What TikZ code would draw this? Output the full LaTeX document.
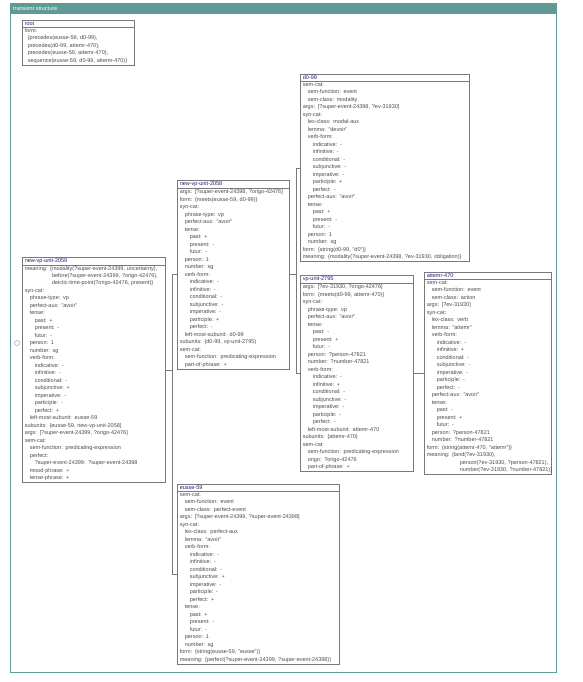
\documentclass[tikz,border=0pt]{standalone}
\usepackage{fontspec}
\setmainfont{Liberation Sans}
\usepackage{xcolor}
\usetikzlibrary{positioning, shapes.multipart}

\definecolor{framecol}{HTML}{5F9A96}
\definecolor{unitgray}{HTML}{7A7A7A}
\definecolor{unittext}{HTML}{4A4A4A}
\definecolor{unitblue}{HTML}{1C1C78}
\definecolor{expandcol}{HTML}{8FA8C8}

\newcommand{\unitfont}{\fontsize{5.5}{7.5}\selectfont}
\newcommand{\ia}{\hspace*{5pt}}
\newcommand{\ib}{\hspace*{10pt}}
\newcommand{\unithead}[1]{\textcolor{unitblue}{#1}}

\begin{document}
\begin{tikzpicture}[
        x=1pt, y=-1pt,
        unit/.style={
            rectangle split,
            rectangle split parts=2,
            draw=unitgray,
            line width=0.6pt,
            anchor=north west,
            align=left,
            inner xsep=2.5pt,
            inner ysep=1.2pt,
            text=unittext,
            font=\unitfont
        },
        link/.style={
            draw=unitgray,
            line width=0.6pt
        }
    ]
        \useasboundingbox (0,0) rectangle (582,682);

        % Ramka i pasek tytulowy
        \draw[framecol, line width=0.8pt] (10,3) rectangle (556,672);
        \fill[framecol] (10,3) rectangle (556,14);
        \node[anchor=west, text=white, font=\unitfont, inner sep=0pt] (title) at (13,8.5) {transient structure};

        % Wezel glowny
        \node[unit, text width=107pt] (root) at (22,20) {\unithead{root}
            \nodepart{two}form:\\
            \hspace*{3pt}\{precedes(eusse-59, d0-99),\\
            \hspace*{3pt}precedes(d0-99, attemr-470),\\
            \hspace*{3pt}precedes(eusse-59, attemr-470),\\
            \hspace*{3pt}sequence(eusse-59, d0-99, attemr-470)\}};

        % Lewa kolumna: jednostka najwyzsza
        \node[circle, draw=expandcol, line width=0.5pt, inner sep=0pt, minimum size=5pt] (expander) at (17,343) {};
        \node[unit, text width=138pt] (nvu2059) at (22,257) {\unithead{new-vp-unit-2059}
            \nodepart{two}meaning: \{modality(?super-event-24399, uncertainty),\\[-0.5pt]
            \phantom{meaning: \{}before(?super-event-24399, ?origo-42476),\\[-0.5pt]
            \phantom{meaning: \{}deictic-time-point(?origo-42476, present)\}\\
            syn-cat:\\
            \ia phrase-type: vp\\
            \ia perfect-aux: "avoir"\\
            \ia tense:\\
            \ib past: +\\
            \ib present: -\\
            \ib futur: -\\
            \ia person: 1\\
            \ia number: sg\\
            \ia verb-form:\\
            \ib indicative: -\\
            \ib infinitive: -\\
            \ib conditional: -\\
            \ib subjunctive: +\\
            \ib imperative: -\\
            \ib participle: -\\
            \ib perfect: +\\
            \ia left-most-subunit: eusse-59\\
            subunits: \{eusse-59, new-vp-unit-2058\}\\
            args: [?super-event-24399, ?origo-42476]\\
            sem-cat:\\
            \ia sem-function: predicating-expression\\
            \ia perfect:\\
            \ib ?super-event-24399: ?super-event-24398\\
            \ia mood-phrase: +\\
            \ia tense-phrase: +};

        % Druga kolumna
        \node[unit, text width=107pt] (nvu2058) at (177,180) {\unithead{new-vp-unit-2058}
            \nodepart{two}args: [?super-event-24398, ?origo-42476]\\
            form: \{meets(eusse-59, d0-99)\}\\
            syn-cat:\\
            \ia phrase-type: vp\\
            \ia perfect-aux: "avoir"\\
            \ia tense:\\
            \ib past: +\\
            \ib present: -\\
            \ib futur: -\\
            \ia person: 1\\
            \ia number: sg\\
            \ia verb-form:\\
            \ib indicative: -\\
            \ib infinitive: -\\
            \ib conditional: -\\
            \ib subjunctive: -\\
            \ib imperative: -\\
            \ib participle: +\\
            \ib perfect: -\\
            \ia left-most-subunit: d0-99\\
            subunits: \{d0-99, vp-unit-2795\}\\
            sem-cat:\\
            \ia sem-function: predicating-expression\\
            \ia part-of-phrase: +};

        \node[unit, text width=157pt] (eusse59) at (177,484) {\unithead{eusse-59}
            \nodepart{two}sem-cat:\\
            \ia sem-function: event\\
            \ia sem-class: perfect-event\\
            args: [?super-event-24399, ?super-event-24398]\\
            syn-cat:\\
            \ia lex-class: perfect-aux\\
            \ia lemma: "avoir"\\
            \ia verb-form:\\
            \ib indicative: -\\
            \ib infinitive: -\\
            \ib conditional: -\\
            \ib subjunctive: +\\
            \ib imperative: -\\
            \ib participle: -\\
            \ib perfect: +\\
            \ia tense:\\
            \ib past: +\\
            \ib present: -\\
            \ib futur: -\\
            \ia person: 1\\
            \ia number: sg\\
            form: \{string(eusse-59, "eusse")\}\\
            meaning: \{perfect(?super-event-24399, ?super-event-24398)\}};

        % Trzecia kolumna
        \node[unit, text width=164pt] (d099) at (300,74) {\unithead{d0-99}
            \nodepart{two}sem-cat:\\
            \ia sem-function: event\\
            \ia sem-class: modality\\
            args: [?super-event-24398, ?ev-31930]\\
            syn-cat:\\
            \ia lex-class: modal-aux\\
            \ia lemma: "devoir"\\
            \ia verb-form:\\
            \ib indicative: -\\
            \ib infinitive: -\\
            \ib conditional: -\\
            \ib subjunctive: -\\
            \ib imperative: -\\
            \ib participle: +\\
            \ib perfect: -\\
            \ia perfect-aux: "avoir"\\
            \ia tense:\\
            \ib past: +\\
            \ib present: -\\
            \ib futur: -\\
            \ia person: 1\\
            \ia number: sg\\
            form: \{string(d0-99, "d0")\}\\
            meaning: \{modality(?super-event-24398, ?ev-31930, obligation)\}};

        \node[unit, text width=108pt] (vpu2795) at (300,275) {\unithead{vp-unit-2795}
            \nodepart{two}args: [?ev-31930, ?origo-42476]\\
            form: \{meets(d0-99, attemr-470)\}\\
            syn-cat:\\
            \ia phrase-type: vp\\
            \ia perfect-aux: "avoir"\\
            \ia tense:\\
            \ib past: -\\
            \ib present: +\\
            \ib futur: -\\
            \ia person: ?person-47821\\
            \ia number: ?number-47821\\
            \ia verb-form:\\
            \ib indicative: -\\
            \ib infinitive: +\\
            \ib conditional: -\\
            \ib subjunctive: -\\
            \ib imperative: -\\
            \ib participle: -\\
            \ib perfect: -\\
            \ia left-most-subunit: attemr-470\\
            subunits: \{attemr-470\}\\
            sem-cat:\\
            \ia sem-function: predicating-expression\\
            \ia origo: ?origo-42476\\
            \ia part-of-phrase: +};

        % Czwarta kolumna
        \node[unit, text width=122pt] (attemr470) at (424,272) {\unithead{attemr-470}
            \nodepart{two}sem-cat:\\
            \ia sem-function: event\\
            \ia sem-class: action\\
            args: [?ev-31930]\\
            syn-cat:\\
            \ia lex-class: verb\\
            \ia lemma: "attemr"\\
            \ia verb-form:\\
            \ib indicative: -\\
            \ib infinitive: +\\
            \ib conditional: -\\
            \ib subjunctive: -\\
            \ib imperative: -\\
            \ib participle: -\\
            \ib perfect: -\\
            \ia perfect-aux: "avoir"\\
            \ia tense:\\
            \ib past: -\\
            \ib present: +\\
            \ib futur: -\\
            \ia person: ?person-47821\\
            \ia number: ?number-47821\\
            form: \{string(attemr-470, "attemr")\}\\
            meaning: \{land(?ev-31930),\\
            \hspace*{33pt}\mbox{person(?ev-31930, ?person-47821),}\\
            \hspace*{33pt}\mbox{number(?ev-31930, ?number-47821)\}}};

        % Polaczenia drzewa
        \draw[link] (nvu2059.east) -- ++(7,0) |- (nvu2058.west);
        \draw[link] (nvu2059.east) -- ++(7,0) |- (eusse59.west);
        \draw[link] (nvu2058.east) -- ++(7,0) |- (d099.west);
        \draw[link] (nvu2058.east) -- ++(7,0) |- (vpu2795.west);
        \draw[link] (vpu2795.east) -- ++(7,0) |- (attemr470.west);

    \end{tikzpicture}
\end{document}
